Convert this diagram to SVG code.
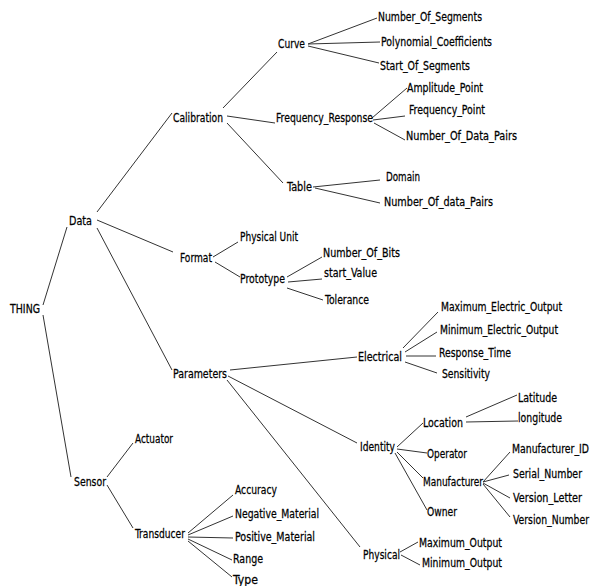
<svg xmlns="http://www.w3.org/2000/svg" width="592" height="586" viewBox="0 0 592 586">
<style>
text{font-family:"DejaVu Sans Condensed","DejaVu Sans",sans-serif;font-size:13px;fill:#000;stroke:#000;stroke-width:0.25px;}
.c line{stroke:#333;stroke-width:1;}
</style>
<rect width="592" height="586" fill="#fff"/>
<g class="c" id="connectors">
<line x1="43" y1="305" x2="67" y2="227"/>
<line x1="43" y1="315" x2="71" y2="477"/>
<line x1="97" y1="212" x2="172" y2="113"/>
<line x1="97" y1="220" x2="173" y2="252"/>
<line x1="97" y1="228" x2="172" y2="370"/>
<line x1="223" y1="108" x2="277" y2="52"/>
<line x1="227" y1="116" x2="275" y2="123"/>
<line x1="227" y1="123" x2="283" y2="183"/>
<line x1="308" y1="44" x2="377" y2="18"/>
<line x1="308" y1="44" x2="380" y2="42"/>
<line x1="308" y1="46" x2="379" y2="63"/>
<line x1="372" y1="118" x2="407" y2="88"/>
<line x1="373" y1="120" x2="405" y2="116"/>
<line x1="374" y1="123" x2="405" y2="140"/>
<line x1="313" y1="187" x2="380" y2="180"/>
<line x1="315" y1="188" x2="380" y2="203"/>
<line x1="213" y1="257" x2="238" y2="242"/>
<line x1="215" y1="262" x2="240" y2="277"/>
<line x1="287" y1="277" x2="322" y2="257"/>
<line x1="288" y1="282" x2="322" y2="279"/>
<line x1="287" y1="288" x2="323" y2="300"/>
<line x1="230" y1="370" x2="357" y2="357"/>
<line x1="228" y1="376" x2="357" y2="443"/>
<line x1="227" y1="380" x2="360" y2="547"/>
<line x1="403" y1="348" x2="438" y2="312"/>
<line x1="405" y1="352" x2="437" y2="332"/>
<line x1="406" y1="356" x2="436" y2="356"/>
<line x1="405" y1="362" x2="437" y2="373"/>
<line x1="397" y1="447" x2="423" y2="423"/>
<line x1="397" y1="449" x2="427" y2="453"/>
<line x1="397" y1="452" x2="423" y2="478"/>
<line x1="395" y1="453" x2="427" y2="510"/>
<line x1="466" y1="417" x2="517" y2="395"/>
<line x1="466" y1="422" x2="518" y2="421"/>
<line x1="483" y1="482" x2="510" y2="452"/>
<line x1="483" y1="482" x2="509" y2="475"/>
<line x1="483" y1="483" x2="510" y2="498"/>
<line x1="483" y1="484" x2="510" y2="517"/>
<line x1="400" y1="552" x2="418" y2="542"/>
<line x1="401" y1="555" x2="420" y2="565"/>
<line x1="107" y1="477" x2="133" y2="443"/>
<line x1="107" y1="485" x2="133" y2="528"/>
<line x1="188" y1="533" x2="233" y2="495"/>
<line x1="188" y1="535" x2="233" y2="516"/>
<line x1="188" y1="537" x2="233" y2="538"/>
<line x1="188" y1="539" x2="232" y2="560"/>
<line x1="188" y1="541" x2="232" y2="577"/>
</g>
<g id="n-thing"><text transform="translate(10,313) scale(0.8,1)" textLength="37.5" lengthAdjust="spacingAndGlyphs">THING</text></g>
<g id="n-data"><text transform="translate(69,225) scale(0.8,1)" textLength="28.75" lengthAdjust="spacingAndGlyphs">Data</text></g>
<g id="n-calibration"><text transform="translate(173,122) scale(0.8,1)" textLength="62.5" lengthAdjust="spacingAndGlyphs">Calibration</text></g>
<g id="n-curve"><text transform="translate(278,48) scale(0.8,1)" textLength="33.75" lengthAdjust="spacingAndGlyphs">Curve</text></g>
<g id="n-freqresp"><text transform="translate(276,122) scale(0.8,1)" textLength="121.25" lengthAdjust="spacingAndGlyphs">Frequency_Response</text></g>
<g id="n-table"><text transform="translate(287,191) scale(0.8,1)" textLength="31.25" lengthAdjust="spacingAndGlyphs">Table</text></g>
<g id="n-nos"><text transform="translate(378,21) scale(0.8,1)" textLength="130" lengthAdjust="spacingAndGlyphs">Number_Of_Segments</text></g>
<g id="n-poly"><text transform="translate(381,46) scale(0.8,1)" textLength="138.75" lengthAdjust="spacingAndGlyphs">Polynomial_Coefficients</text></g>
<g id="n-sos"><text transform="translate(380,70) scale(0.8,1)" textLength="112.5" lengthAdjust="spacingAndGlyphs">Start_Of_Segments</text></g>
<g id="n-amp"><text transform="translate(407,92) scale(0.8,1)" textLength="95" lengthAdjust="spacingAndGlyphs">Amplitude_Point</text></g>
<g id="n-fp"><text transform="translate(409,114) scale(0.8,1)" textLength="95" lengthAdjust="spacingAndGlyphs">Frequency_Point</text></g>
<g id="n-nodp"><text transform="translate(406,140) scale(0.8,1)" textLength="138.75" lengthAdjust="spacingAndGlyphs">Number_Of_Data_Pairs</text></g>
<g id="n-domain"><text transform="translate(386,181) scale(0.8,1)" textLength="42.5" lengthAdjust="spacingAndGlyphs">Domain</text></g>
<g id="n-nodp2"><text transform="translate(384,206) scale(0.8,1)" textLength="136.25" lengthAdjust="spacingAndGlyphs">Number_Of_data_Pairs</text></g>
<g id="n-format"><text transform="translate(180,262) scale(0.8,1)" textLength="40" lengthAdjust="spacingAndGlyphs">Format</text></g>
<g id="n-physunit"><text transform="translate(240,241) scale(0.8,1)" textLength="72.5" lengthAdjust="spacingAndGlyphs">Physical Unit</text></g>
<g id="n-prototype"><text transform="translate(240,283) scale(0.8,1)" textLength="56.25" lengthAdjust="spacingAndGlyphs">Prototype</text></g>
<g id="n-nob"><text transform="translate(323,257) scale(0.8,1)" textLength="96.25" lengthAdjust="spacingAndGlyphs">Number_Of_Bits</text></g>
<g id="n-startval"><text transform="translate(324,277) scale(0.8,1)" textLength="66.25" lengthAdjust="spacingAndGlyphs">start_Value</text></g>
<g id="n-tolerance"><text transform="translate(325,304) scale(0.8,1)" textLength="55" lengthAdjust="spacingAndGlyphs">Tolerance</text></g>
<g id="n-parameters"><text transform="translate(173,378) scale(0.8,1)" textLength="67.5" lengthAdjust="spacingAndGlyphs">Parameters</text></g>
<g id="n-electrical"><text transform="translate(358,361) scale(0.8,1)" textLength="55" lengthAdjust="spacingAndGlyphs">Electrical</text></g>
<g id="n-meo"><text transform="translate(441,311) scale(0.8,1)" textLength="151.25" lengthAdjust="spacingAndGlyphs">Maximum_Electric_Output</text></g>
<g id="n-mineo"><text transform="translate(440,334) scale(0.8,1)" textLength="147.5" lengthAdjust="spacingAndGlyphs">Minimum_Electric_Output</text></g>
<g id="n-rt"><text transform="translate(439,357) scale(0.8,1)" textLength="90" lengthAdjust="spacingAndGlyphs">Response_Time</text></g>
<g id="n-sens"><text transform="translate(442,378) scale(0.8,1)" textLength="60" lengthAdjust="spacingAndGlyphs">Sensitivity</text></g>
<g id="n-identity"><text transform="translate(360,451) scale(0.8,1)" textLength="43.75" lengthAdjust="spacingAndGlyphs">Identity</text></g>
<g id="n-location"><text transform="translate(423,427) scale(0.8,1)" textLength="50" lengthAdjust="spacingAndGlyphs">Location</text></g>
<g id="n-operator"><text transform="translate(427,458) scale(0.8,1)" textLength="50" lengthAdjust="spacingAndGlyphs">Operator</text></g>
<g id="n-manufacturer"><text transform="translate(423,486) scale(0.8,1)" textLength="75" lengthAdjust="spacingAndGlyphs">Manufacturer</text></g>
<g id="n-owner"><text transform="translate(427,516) scale(0.8,1)" textLength="37.5" lengthAdjust="spacingAndGlyphs">Owner</text></g>
<g id="n-latitude"><text transform="translate(518,402) scale(0.8,1)" textLength="48.75" lengthAdjust="spacingAndGlyphs">Latitude</text></g>
<g id="n-longitude"><text transform="translate(518,422) scale(0.8,1)" textLength="55" lengthAdjust="spacingAndGlyphs">longitude</text></g>
<g id="n-mid"><text transform="translate(512,453) scale(0.8,1)" textLength="96.25" lengthAdjust="spacingAndGlyphs">Manufacturer_ID</text></g>
<g id="n-serial"><text transform="translate(513,478) scale(0.8,1)" textLength="86.25" lengthAdjust="spacingAndGlyphs">Serial_Number</text></g>
<g id="n-vl"><text transform="translate(513,502) scale(0.8,1)" textLength="86.25" lengthAdjust="spacingAndGlyphs">Version_Letter</text></g>
<g id="n-vn"><text transform="translate(513,524) scale(0.8,1)" textLength="95" lengthAdjust="spacingAndGlyphs">Version_Number</text></g>
<g id="n-physical"><text transform="translate(363,559) scale(0.8,1)" textLength="46.25" lengthAdjust="spacingAndGlyphs">Physical</text></g>
<g id="n-maxout"><text transform="translate(419,547) scale(0.8,1)" textLength="103.75" lengthAdjust="spacingAndGlyphs">Maximum_Output</text></g>
<g id="n-minout"><text transform="translate(422,567) scale(0.8,1)" textLength="100" lengthAdjust="spacingAndGlyphs">Minimum_Output</text></g>
<g id="n-sensor"><text transform="translate(74,486) scale(0.8,1)" textLength="40" lengthAdjust="spacingAndGlyphs">Sensor</text></g>
<g id="n-actuator"><text transform="translate(135,443) scale(0.8,1)" textLength="47.5" lengthAdjust="spacingAndGlyphs">Actuator</text></g>
<g id="n-transducer"><text transform="translate(135,538) scale(0.8,1)" textLength="62.5" lengthAdjust="spacingAndGlyphs">Transducer</text></g>
<g id="n-accuracy"><text transform="translate(235,494) scale(0.8,1)" textLength="52.5" lengthAdjust="spacingAndGlyphs">Accuracy</text></g>
<g id="n-negmat"><text transform="translate(235,518) scale(0.8,1)" textLength="105" lengthAdjust="spacingAndGlyphs">Negative_Material</text></g>
<g id="n-posmat"><text transform="translate(235,541) scale(0.8,1)" textLength="100" lengthAdjust="spacingAndGlyphs">Positive_Material</text></g>
<g id="n-range"><text transform="translate(233,563) scale(0.8,1)" textLength="37.5" lengthAdjust="spacingAndGlyphs">Range</text></g>
<g id="n-type"><text transform="translate(233,584) scale(0.8,1)" textLength="31.25" lengthAdjust="spacingAndGlyphs">Type</text></g>
</svg>
